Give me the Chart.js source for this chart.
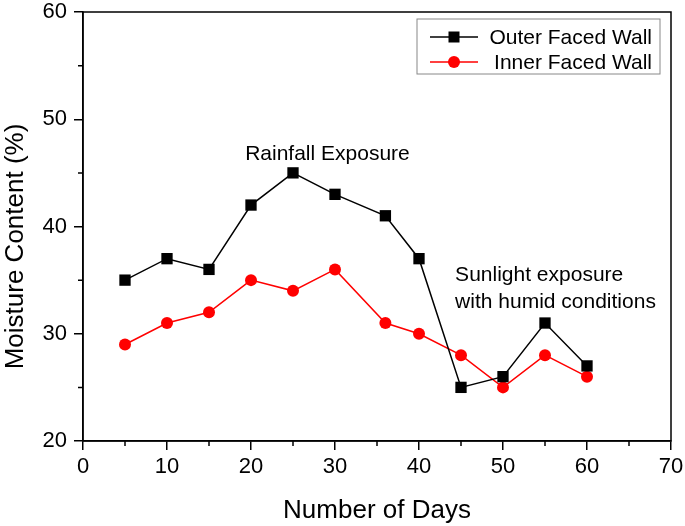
<!DOCTYPE html>
<html>
<head>
<meta charset="utf-8">
<script src="https://cdn.jsdelivr.net/npm/chart.js@4/dist/chart.umd.min.js"></script>
<style>
  html, body { margin: 0; padding: 0; background: #fff; }
  #wrap { width: 685px; height: 526px; }
</style>
</head>
<body>
<div id="wrap"><canvas id="moistureChart"></canvas></div>
<script>
// Data
const days = [5, 10, 15, 20, 25, 30, 36, 40, 45, 50, 55, 60];
const outerWall = [35, 37, 36, 42, 45, 43, 41, 37, 25, 26, 31, 27];
const innerWall = [29, 31, 32, 35, 34, 36, 31, 30, 28, 25, 28, 26];
const seriesNames = ['Outer Faced Wall', 'Inner Faced Wall'];
const xTicks = [0, 10, 20, 30, 40, 50, 60, 70];
const yTicks = [20, 30, 40, 50, 60];
const xMinorTicks = [5, 15, 25, 35, 45, 55, 65];
const yMinorTicks = [25, 35, 45, 55];
const yTitle = 'Moisture Content (%)';
const xTitle = 'Number of Days';
const notes = [
  { lines: ['Rainfall Exposure'], x: 29.1, y: 46.2, align: 'center' },
  { lines: ['Sunlight exposure', 'with humid conditions'], x: 44.3, y: 34.9, align: 'left' }
];

const FONT = 'Liberation Sans, Arial, sans-serif';

function toPoints(values) {
  return days.map((d, i) => ({ x: d, y: values[i] }));
}

// draws the box, minor ticks, y title, legend and notes
const extrasPlugin = {
  id: 'extras',
  afterDraw(chart) {
    const ctx = chart.ctx;
    const area = chart.chartArea;
    const xs = chart.scales.x;
    const ys = chart.scales.y;
    ctx.save();

    // frame
    ctx.strokeStyle = '#000';
    ctx.lineWidth = 1.5;
    ctx.strokeRect(area.left, area.top, area.right - area.left, area.bottom - area.top);

    // minor ticks
    ctx.beginPath();
    xMinorTicks.forEach(v => {
      const px = xs.getPixelForValue(v);
      ctx.moveTo(px, area.bottom);
      ctx.lineTo(px, area.bottom + 5);
    });
    yMinorTicks.forEach(v => {
      const py = ys.getPixelForValue(v);
      ctx.moveTo(area.left - 5, py);
      ctx.lineTo(area.left, py);
    });
    ctx.stroke();

    // y axis title
    ctx.save();
    ctx.translate(16, 246.5);
    ctx.rotate(-Math.PI / 2);
    ctx.font = '26px ' + FONT;
    ctx.fillStyle = '#000';
    ctx.textAlign = 'center';
    ctx.textBaseline = 'middle';
    ctx.fillText(yTitle, 0, 0);
    ctx.restore();

    // legend
    const boxRight = area.right - 11;
    const boxTop = area.top + 7;
    ctx.strokeStyle = '#888';
    ctx.lineWidth = 1;
    ctx.strokeRect(boxRight - 243, boxTop, 243, 55);
    ctx.font = '21px ' + FONT;
    ctx.textAlign = 'right';
    ctx.textBaseline = 'middle';
    chart.data.datasets.forEach((ds, i) => {
      const cy = boxTop + 18 + i * 25;
      ctx.strokeStyle = ds.borderColor;
      ctx.lineWidth = 1.5;
      ctx.beginPath();
      ctx.moveTo(boxRight - 230, cy);
      ctx.lineTo(boxRight - 182, cy);
      ctx.stroke();
      ctx.fillStyle = ds.backgroundColor;
      if (ds.pointStyle === 'rect') {
        ctx.fillRect(boxRight - 211.5, cy - 5.5, 11, 11);
      } else {
        ctx.beginPath();
        ctx.arc(boxRight - 206, cy, 6, 0, Math.PI * 2);
        ctx.fill();
      }
      ctx.fillStyle = '#000';
      ctx.fillText(ds.label, boxRight - 8, cy + 1);
    });

    // notes
    ctx.font = '21px ' + FONT;
    ctx.fillStyle = '#000';
    ctx.textBaseline = 'alphabetic';
    notes.forEach(n => {
      ctx.textAlign = n.align;
      const px = xs.getPixelForValue(n.x);
      const py = ys.getPixelForValue(n.y);
      n.lines.forEach((line, j) => ctx.fillText(line, px, py + j * 26.5));
    });

    ctx.restore();
  }
};

new Chart(document.getElementById('moistureChart'), {
  type: 'line',
  data: {
    datasets: [
      {
        label: seriesNames[0],
        data: toPoints(outerWall),
        borderColor: '#000',
        backgroundColor: '#000',
        borderWidth: 1.5,
        pointStyle: 'rect',
        pointRadius: 8,
        pointBorderWidth: 0,
        tension: 0
      },
      {
        label: seriesNames[1],
        data: toPoints(innerWall),
        borderColor: '#ff0000',
        backgroundColor: '#ff0000',
        borderWidth: 1.5,
        pointStyle: 'circle',
        pointRadius: 6,
        pointBorderWidth: 0,
        tension: 0
      }
    ]
  },
  options: {
    responsive: true,
    maintainAspectRatio: false,
    animation: false,
    layout: { padding: { left: 0, right: 14, top: 12, bottom: 0 } },
    plugins: {
      legend: { display: false },
      tooltip: { enabled: false }
    },
    scales: {
      x: {
        type: 'linear',
        min: 0,
        max: 70,
        afterBuildTicks: scale => { scale.ticks = xTicks.map(v => ({ value: v })); },
        afterFit: scale => {
          scale.height = 85;
          scale.paddingLeft = 0;
          scale.paddingRight = 0;
        },
        ticks: {
          color: '#000',
          padding: 6,
          maxRotation: 0,
          font: { family: FONT, size: 22, lineHeight: 1 }
        },
        grid: {
          drawOnChartArea: false,
          tickLength: 9,
          color: '#000',
          lineWidth: 1.5
        },
        border: { display: true, color: '#000', width: 1.5 },
        title: {
          display: true,
          text: xTitle,
          color: '#000',
          padding: 0,
          font: { family: FONT, size: 26 }
        }
      },
      y: {
        min: 20,
        max: 60,
        afterBuildTicks: scale => { scale.ticks = yTicks.map(v => ({ value: v })); },
        afterFit: scale => {
          scale.width = 83;
          scale.paddingTop = 0;
          scale.paddingBottom = 0;
        },
        ticks: {
          color: '#000',
          padding: 7,
          font: { family: FONT, size: 22, lineHeight: 1 }
        },
        grid: {
          drawOnChartArea: false,
          tickLength: 9,
          color: '#000',
          lineWidth: 1.5
        },
        border: { display: true, color: '#000', width: 1.5 }
      }
    }
  },
  plugins: [extrasPlugin]
});
</script>
</body>
</html>
